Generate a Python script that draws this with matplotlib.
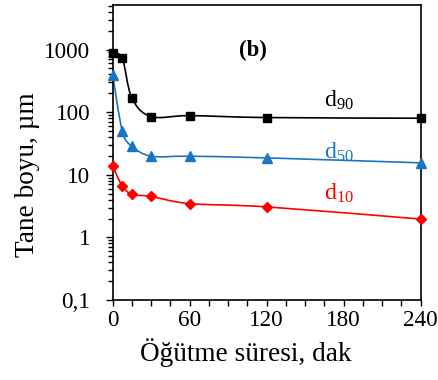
import numpy as np
import matplotlib
matplotlib.use("Agg")
import matplotlib.pyplot as plt
from matplotlib.path import Path
from matplotlib.patches import PathPatch
from matplotlib.ticker import LogLocator, FixedLocator, MultipleLocator, NullFormatter

plt.rcParams['font.family'] = ['Liberation Serif', 'DejaVu Serif']
plt.rcParams['mathtext.fontset'] = 'custom'
plt.rcParams['mathtext.rm'] = 'Liberation Serif'
plt.rcParams['mathtext.it'] = 'Liberation Serif:italic'

time_min = [0, 7.5, 15, 30, 60, 120, 240]
d90 = [870, 720, 167, 85, 88, 82, 80]
d50 = [393, 49.5, 28.6, 19.8, 19.8, 18.6, 15.5]
d10 = [13.7, 6.6, 4.9, 4.5, 3.46, 3.07, 1.96]

series_names = [r'd$_{\mathregular{90}}$', r'd$_{\mathregular{50}}$', r'd$_{\mathregular{10}}$']
x_ticks = [0, 60, 120, 180, 240]
y_ticks = [0.1, 1, 10, 100, 1000]
y_tick_labels = ['0,1', '1', '10', '100', '1000']

BLUE = '#1a75c2'
RED = '#ff0000'

fig = plt.figure(figsize=(4.38, 3.80), dpi=100)
ax = fig.add_axes([112.7/438, 1-300/380, (420.7-112.7)/438, (300-4.7)/380])
ax.set_yscale('log')
ax.set_xlim(0, 240)
ax.set_ylim(0.1, 5200)


def smooth_path(xs, ys):
    xs = np.asarray(xs, float)
    ly = np.log10(np.asarray(ys, float))
    P = np.column_stack([xs, ly])
    n = len(P)
    verts = [P[0]]
    codes = [Path.MOVETO]
    for i in range(n - 1):
        p0 = P[i - 1] if i > 0 else P[i]
        p1 = P[i]
        p2 = P[i + 1]
        p3 = P[i + 2] if i + 2 < n else P[i + 1]
        c1 = p1 + (p2 - p0) / 6.0
        c2 = p2 - (p3 - p1) / 6.0
        verts += [c1, c2, p2]
        codes += [Path.CURVE4] * 3
    V = np.array(verts)
    V[:, 1] = 10 ** V[:, 1]
    return Path(V, codes)


styles = [
    (d90, 'black', 's', 6.3),
    (d50, BLUE, '^', 6.5),
    (d10, RED, 'D', 4.6),
]
for vals, col, mk, ms in styles:
    ax.add_patch(PathPatch(smooth_path(time_min, vals), facecolor='none',
                           edgecolor=col, lw=1.2, clip_on=False, zorder=2))
    ax.plot(time_min, vals, linestyle='none', marker=mk, color=col,
            markersize=ms, clip_on=False, zorder=3)

ax.set_xticks(x_ticks)
ax.xaxis.set_minor_locator(MultipleLocator(15))
ax.yaxis.set_major_locator(FixedLocator(y_ticks))
ax.set_yticklabels(y_tick_labels)
ax.yaxis.set_minor_locator(LogLocator(base=10, subs=np.arange(2, 10), numticks=20))
ax.yaxis.set_minor_formatter(NullFormatter())

ax.tick_params(axis='both', which='major', direction='out', width=1,
               labelsize=16.7)
ax.tick_params(axis='y', which='major', length=5, pad=11)
ax.tick_params(axis='x', which='major', length=4.2, pad=3)
ax.tick_params(axis='x', which='minor', direction='out', length=4.2, width=1)
ax.tick_params(axis='y', which='minor', direction='out', length=3.5, width=1)
for s in ax.spines.values():
    s.set_linewidth(1.2)

ax.set_xlabel('Öğütme süresi, dak', fontsize=19.6)
ax.xaxis.set_label_coords(0.433, -0.129)
ax.set_ylabel('Tane boyu, µm', fontsize=19.6)
ax.yaxis.set_label_coords(-0.236, 0.423)

ax.text(253/438, 1-50/380, '(b)', transform=fig.transFigure, fontsize=16.5,
        fontweight='bold', ha='center', va='center')
ax.text(339/438, 1-100/380, series_names[0], transform=fig.transFigure,
        fontsize=17, color='black', ha='center', va='center')
ax.text(339/438, 1-152/380, series_names[1], transform=fig.transFigure,
        fontsize=17, color=BLUE, ha='center', va='center')
ax.text(339/438, 1-193/380, series_names[2], transform=fig.transFigure,
        fontsize=17, color=RED, ha='center', va='center')

fig.savefig('out.png', dpi=100)
